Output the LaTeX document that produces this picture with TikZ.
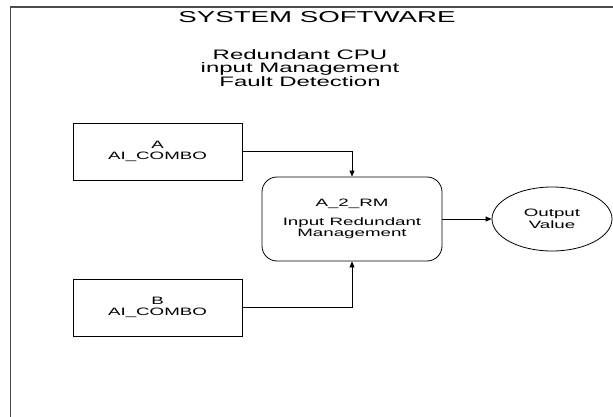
\documentclass[tikz,border=0pt]{standalone}
\usepackage{fontspec}
\setmainfont{Liberation Sans}[FakeStretch=1.75]
\usepackage{tikz}
\usetikzlibrary{arrows.meta, positioning, shapes.geometric}

\tikzset{
  combobox/.style={draw, line width=0.8pt, minimum width=169pt, minimum height=57pt,
    inner sep=0pt, align=center, font=\fontsize{10.7}{11}\selectfont},
  rmbox/.style={draw, line width=0.8pt, rounded corners=15pt, minimum width=180pt,
    minimum height=84pt, inner sep=0pt, align=center, font=\fontsize{10.7}{11.5}\selectfont},
  outval/.style={draw, ellipse, line width=0.8pt, minimum width=120pt, minimum height=64pt,
    inner sep=0pt, align=center, font=\fontsize{10.7}{11.5}\selectfont},
  flow/.style={line width=0.8pt, -{Triangle[length=6pt,width=5pt]}},
}

\begin{document}
\begin{tikzpicture}[x=1pt, y=-1pt]
    \useasboundingbox (0,0) rectangle (613,417);
    % outer frame, runs off the page on the right and the bottom
    \draw[line width=1.6pt, black!70] (10.5,420) -- (10.5,7) -- (616,7);

    \node[font=\fontsize{15.8}{18}\selectfont] (title) at (317,17.5) {SYSTEM SOFTWARE};
    \node[align=center, font=\fontsize{13.7}{13.7}\selectfont] (subtitle) at (300,68)
      {Redundant CPU\\input Management\\Fault Detection};

    \foreach \Name/\Letter/\Y in {boxA/A/151.5, boxB/B/307.5}
      \node[combobox] (\Name) at (157.5,\Y) {\Letter\\AI\_COMBO};

    \node[rmbox] (rm) at (352,219) {A\_2\_RM\\[7pt]Input Redundant\\Management};
    \node[outval] (out) at (552,219) {Output\\Value};

    \draw[flow] (boxA.east) -| (rm.north);
    \draw[flow] (boxB.east) -| (rm.south);
    \draw[flow] (rm.east) -- (out.west);

  \end{tikzpicture}
\end{document}
